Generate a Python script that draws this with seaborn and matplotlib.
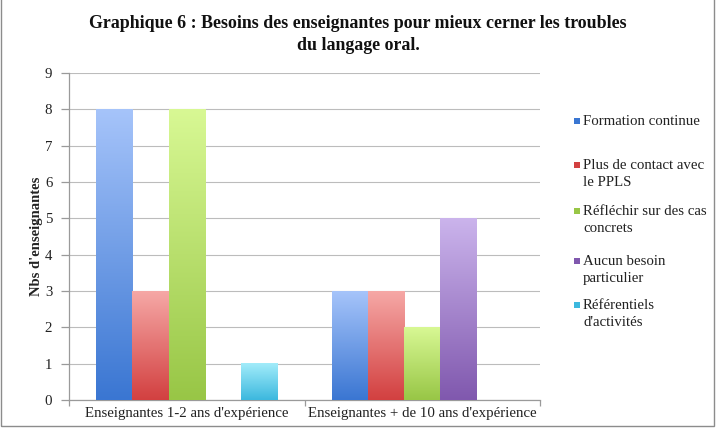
import numpy as np
import pandas as pd
import matplotlib
matplotlib.use("Agg")
import matplotlib.pyplot as plt
import seaborn as sns
from matplotlib.colors import to_rgb
from matplotlib.patches import Rectangle

categories = ["Enseignantes 1-2 ans d'expérience", "Enseignantes + de 10 ans d'expérience"]
series = ["Formation continue", "Plus de contact avec le PPLS", "Réfléchir sur des cas concrets",
          "Aucun besoin particulier", "Référentiels d'activités"]
legend_labels = ["Formation continue", "Plus de contact avec\nle PPLS", "Réfléchir sur des cas\nconcrets",
                 "Aucun besoin\nparticulier", "Référentiels\nd'activités"]
formation = [8, 3]
contact = [3, 3]
reflechir = [8, 2]
aucun = [0, 5]
referentiels = [1, 0]
yticks = [0, 1, 2, 3, 4, 5, 6, 7, 8, 9]

top_colors = ["#a6c4fa", "#f6a8a6", "#d8f894", "#cbb4ec", "#a2ecfa"]
bottom_colors = ["#3a76d2", "#d24040", "#98c646", "#8058ae", "#3cb8de"]

values = [formation, contact, reflechir, aucun, referentiels]
rows = []
for s, vals in zip(series, values):
    for c, v in zip(categories, vals):
        rows.append({"cat": c, "serie": s, "val": v})
df = pd.DataFrame(rows)

sns.set_theme(style="white")
plt.rcParams['font.family'] = ['Liberation Serif', 'DejaVu Serif']

fig = plt.figure(figsize=(7.17, 4.29), dpi=100)
ax = fig.add_axes([69/717, 1-400/429, (540-69)/717, (400-73)/429])

sns.barplot(data=df, x="cat", y="val", hue="serie", hue_order=series, order=categories,
            palette=bottom_colors, width=0.77, linewidth=0, legend=False, ax=ax, zorder=2)

for i, cont in enumerate(ax.containers):
    c_top = np.array(to_rgb(top_colors[i]))
    c_bot = np.array(to_rgb(bottom_colors[i]))
    t = np.linspace(0, 1, 200)[:, None]
    img = (c_top[None, :] * (1 - t) + c_bot[None, :] * t)[:, None, :]
    for bar in cont:
        h = bar.get_height()
        if h <= 0:
            continue
        x0 = bar.get_x(); w = bar.get_width(); y0 = bar.get_y()
        ax.imshow(img, extent=[x0, x0 + w, y0, y0 + h], aspect='auto', origin='upper',
                  zorder=3, interpolation='bilinear')

ax.set_xlim(-0.5, 1.5)
ax.set_ylim(0, 9)
ax.set_yticks(yticks)
ax.set_yticklabels([str(v) for v in yticks], fontsize=10.7)
ax.yaxis.grid(True, color="#bcbcbc", linewidth=0.8, zorder=0)
ax.set_axisbelow(True)
for sp in ["top", "right"]:
    ax.spines[sp].set_visible(False)
for sp in ["left", "bottom"]:
    ax.spines[sp].set_color("#9a9a9a")
    ax.spines[sp].set_linewidth(0.9)
ax.tick_params(axis='y', which='major', length=6, width=0.9, color="#9a9a9a", left=True, pad=6, labelcolor="#222222")
ax.set_xticks([0, 1])
ax.set_xticklabels(categories, fontsize=10.7, color="#222222")
ax.set_xticks([-0.5, 0.5, 1.5], minor=True)
ax.tick_params(axis='x', which='major', length=0, pad=5)
ax.tick_params(axis='x', which='minor', length=4, width=0.9, color="#9a9a9a", bottom=True)
ax.set_xlabel("")
ax.set_ylabel("Nbs d'enseignantes", fontsize=10.5, fontweight='bold', color="#222222")
ax.yaxis.set_label_coords(-0.055, 0.5)

fig.text(358/717, 1-24/429, "Graphique 6 : Besoins des enseignantes pour mieux cerner les troubles",
         ha='center', va='center', fontsize=12.9, fontweight='bold', color="#111111")
fig.text(358/717, 1-46/429, "du langage oral.",
         ha='center', va='center', fontsize=12.9, fontweight='bold', color="#111111")

# legend
leg_y = [121, 165, 211, 261, 305]
for i, (lab, y) in enumerate(zip(legend_labels, leg_y)):
    fig.patches.append(Rectangle((574/717, 1-(y+3)/429), 6/717, 6/429, transform=fig.transFigure,
                                 facecolor=bottom_colors[i], edgecolor='none'))
    fig.text(583/717, 1-(y-6)/429, lab, ha='left', va='top', fontsize=10.7, color="#222222",
             linespacing=1.38)

# figure border
fig.patches.append(Rectangle((1/717, 3/429), 713/717, 430/429, transform=fig.transFigure,
                             facecolor='none', edgecolor='#8c8c8c', linewidth=1.0))

fig.savefig("out.png", dpi=100)
